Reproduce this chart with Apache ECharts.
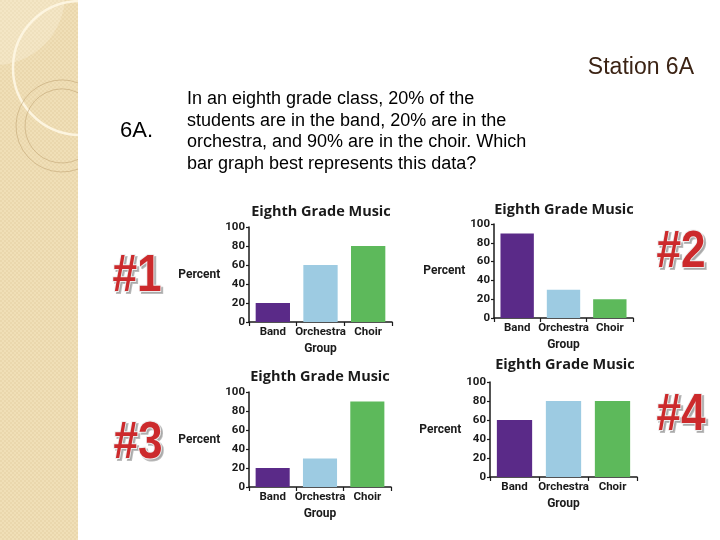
<!DOCTYPE html>
<html>
<head>
<meta charset="utf-8">
<script src="https://cdn.jsdelivr.net/npm/echarts@6/dist/echarts.min.js"></script>
<style>
html,body{margin:0;padding:0;background:#fff;}
#main{width:720px;height:540px;}
</style>
</head>
<body>
<div id="main"></div>
<script>
// ---- data ----
const categories = ['Band', 'Orchestra', 'Choir'];
const chart1Values = [20, 60, 80];
const chart2Values = [90, 30, 20];
const chart3Values = [20, 30, 90];
const chart4Values = [60, 80, 80];
const yTicks = [0, 20, 40, 60, 80, 100];
const chartLabels = ['#1', '#2', '#3', '#4'];
const chartTitle = 'Eighth Grade Music';
const yName = 'Percent';
const xName = 'Group';
const questionLines = [
  'In an eighth grade class, 20% of the',
  'students are in the band, 20% are in the',
  'orchestra, and 90% are in the choir. Which',
  'bar graph best represents this data?'
];

const allValues = [chart1Values, chart2Values, chart3Values, chart4Values];
const barColors = ['#5a2a88', '#9dcbe2', '#5db95b'];

// layout
const grids = [
  {left: 249, top: 227, width: 143, height: 95},
  {left: 494, top: 224, width: 139, height: 94},
  {left: 249, top: 392, width: 142, height: 95},
  {left: 490, top: 382, width: 147, height: 95}
];
const titlePos = [[321, 212], [564, 210], [320, 377], [565, 365]];
const hashPos = [[137, 277], [681, 253], [138, 444], [681, 416]];

const chartFont = "Roboto, 'Liberation Sans', sans-serif";
const axisColor = '#1a1a1a';

// texture pattern for left panel
const pat = document.createElement('canvas');
pat.width = 4; pat.height = 4;
const pctx = pat.getContext('2d');
pctx.fillStyle = '#f0dfb7'; pctx.fillRect(0, 0, 4, 4);
pctx.fillStyle = '#ead7ad'; pctx.fillRect(0, 0, 2, 2); pctx.fillRect(2, 2, 2, 2);

const chart = echarts.init(document.getElementById('main'), null, {renderer: 'canvas'});

const xAxes = [], yAxes = [], series = [];
grids.forEach((g, i) => {
  xAxes.push({
    type: 'category', gridIndex: i, data: categories,
    name: xName, nameLocation: 'middle', nameGap: 21,
    nameTextStyle: {fontFamily: chartFont, fontWeight: 'bold', fontSize: 12, color: axisColor},
    axisLine: {lineStyle: {color: axisColor, width: 1.5}},
    axisTick: {show: true, length: 4, lineStyle: {color: axisColor, width: 1.2}},
    axisLabel: {interval: 0, fontFamily: chartFont, fontWeight: 'bold', fontSize: 11.5, color: axisColor, margin: 4}
  });
  yAxes.push({
    type: 'value', gridIndex: i, min: 0, max: 100, interval: 20,
    name: yName, nameLocation: 'middle', nameRotate: 0, nameGap: 27,
    nameTextStyle: {fontFamily: chartFont, fontWeight: 'bold', fontSize: 12, color: axisColor},
    splitLine: {show: false},
    axisLine: {show: true, lineStyle: {color: axisColor, width: 1.5}},
    axisTick: {show: true, length: 3, lineStyle: {color: axisColor, width: 1.2}},
    axisLabel: {fontFamily: chartFont, fontWeight: 'bold', fontSize: 11.5, color: axisColor, margin: 4,
      formatter: v => yTicks.indexOf(v) >= 0 ? String(v) : ''}
  });
  series.push({
    type: 'bar', xAxisIndex: i, yAxisIndex: i, barCategoryGap: '28%',
    data: allValues[i].map((v, j) => ({value: v, itemStyle: {color: barColors[j]}})),
    animation: false
  });
});

const graphics = [
  // left decorative panel
  {type: 'rect', shape: {x: 0, y: 0, width: 78, height: 540}, style: {fill: {image: pat, repeat: 'repeat'}}, z: 0},
  {type: 'circle', shape: {cx: -5, cy: -5, r: 70}, style: {fill: 'rgba(255,250,238,0.25)'}, z: 1},
  {type: 'arc', shape: {cx: 80, cy: 68, r: 67, startAngle: Math.PI / 2 + 0.03, endAngle: Math.PI * 1.5 - 0.03, clockwise: true},
    style: {stroke: 'rgba(253,246,226,0.95)', lineWidth: 2.5, fill: null}, z: 2},
  {type: 'arc', shape: {cx: 62, cy: 126, r: 46, startAngle: 1.215, endAngle: 2 * Math.PI - 1.215, clockwise: true},
    style: {stroke: 'rgba(185,155,105,0.5)', lineWidth: 1, fill: null}, z: 2},
  {type: 'arc', shape: {cx: 62, cy: 126, r: 37, startAngle: 1.124, endAngle: 2 * Math.PI - 1.124, clockwise: true},
    style: {stroke: 'rgba(185,155,105,0.5)', lineWidth: 1, fill: null}, z: 2},
  // slide texts
  {type: 'text', x: 694, y: 68, style: {text: 'Station 6A', fill: '#3b2314', fontFamily: "'Liberation Sans', Arial, sans-serif", fontSize: 23, textAlign: 'right', textVerticalAlign: 'middle'}},
  {type: 'text', x: 120, y: 131, style: {text: '6A.', fill: '#000', fontFamily: "'Liberation Sans', Arial, sans-serif", fontSize: 22, textAlign: 'left', textVerticalAlign: 'middle'}},
  {type: 'text', x: 187, y: 88, style: {text: questionLines.join('\n'), fill: '#000', fontFamily: "'Liberation Sans', Arial, sans-serif", fontSize: 18, lineHeight: 21.7, textAlign: 'left', textVerticalAlign: 'top'}}
];

titlePos.forEach((p, i) => {
  graphics.push({type: 'text', x: p[0], y: p[1], style: {text: chartTitle, fill: '#1a1a1a', fontFamily: "'Open Sans', 'Lato', sans-serif", fontWeight: 'bold', fontSize: 14.5, textAlign: 'center', textVerticalAlign: 'middle'}});
});
hashPos.forEach((p, i) => {
  // drop shadow layer
  graphics.push({type: 'text', x: p[0] + 2, y: p[1] + 2, scaleX: 0.85, z: 3,
    style: {text: chartLabels[i], fill: '#a9a9a9', fontFamily: "'Liberation Sans', Arial, sans-serif", fontWeight: 'bold', fontSize: 52,
      textAlign: 'center', textVerticalAlign: 'middle', stroke: '#bdbdbd', lineWidth: 2}});
  // main red glyphs with light outline
  graphics.push({type: 'text', x: p[0], y: p[1], scaleX: 0.85, z: 4,
    style: {text: chartLabels[i], fill: '#cc2a2c', fontFamily: "'Liberation Sans', Arial, sans-serif", fontWeight: 'bold', fontSize: 52,
      textAlign: 'center', textVerticalAlign: 'middle', stroke: '#eeeeee', lineWidth: 2, strokeFirst: true}});
});

chart.setOption({
  animation: false,
  backgroundColor: '#ffffff',
  grid: grids,
  xAxis: xAxes,
  yAxis: yAxes,
  series: series,
  graphic: graphics
});
</script>
</body>
</html>
